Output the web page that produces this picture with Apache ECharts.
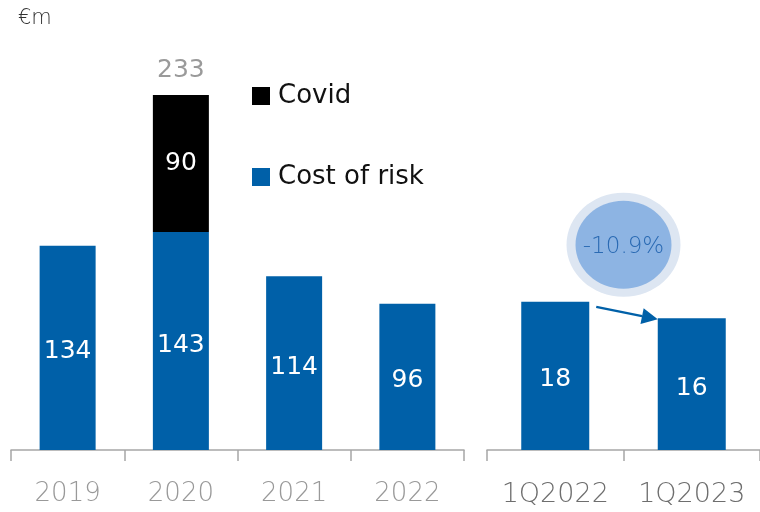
<!DOCTYPE html>
<html>
<head>
<meta charset="utf-8">
<script src="https://cdn.jsdelivr.net/npm/echarts@6/dist/echarts.min.js"></script>
<style>
    html, body { margin: 0; padding: 0; background: #fff; }
    #chart { width: 760px; height: 512px; }
</style>
</head>
<body>
<div id="chart"></div>
<script>
    // yearly panel
    const years = ['2019', '2020', '2021', '2022']
    const costOfRisk = [134, 143, 114, 96]
    const covid = [null, 90, null, null]
    // quarterly panel
    const quarters = ['1Q2022', '1Q2023']
    const costOfRiskQ = [18, 16]
    const changeLabel = '-10.9%'

    const blue = '#0060a8'
    const font = 'DejaVu Sans'

    let chart = echarts.init(document.getElementById('chart'))

    let xAxisBase = {
        type: 'category',
        axisLine: { lineStyle: { color: '#a6a6a6', width: 1.5 } },
        axisTick: { show: true, length: 11, lineStyle: { color: '#a6a6a6', width: 1.5 } },
        axisLabel: { fontFamily: font, fontSize: 26, fontWeight: 200, margin: 31, interval: 0 },
        splitLine: { show: false }
    }

    let valueLabel = {
        show: true, position: 'inside', offset: [0, 4],
        color: '#fff', fontSize: 25, fontFamily: font
    }

    let options = {
        animation: false,
        textStyle: { fontFamily: font },
        title: {
            text: '€m',
            left: 13, top: 3,
            textStyle: { fontFamily: font, fontSize: 21, fontWeight: 200, color: '#333' }
        },
        legend: {
            data: ['Covid', 'Cost of risk'],
            orient: 'vertical',
            left: 252, top: 83,
            padding: 0,
            icon: 'rect',
            itemWidth: 18, itemHeight: 18,
            itemGap: 55,
            textStyle: { fontFamily: font, fontSize: 26, color: '#111', lineHeight: 24, padding: [0, 0, 0, 3] },
            selectedMode: false
        },
        grid: [
            { left: 11, top: 50, width: 453, height: 400 },
            { left: 487, top: 50, width: 276, height: 400 }
        ],
        xAxis: [
            Object.assign({}, xAxisBase, {
                gridIndex: 0, data: years,
                axisLabel: Object.assign({}, xAxisBase.axisLabel, { color: '#999' })
            }),
            Object.assign({}, xAxisBase, {
                gridIndex: 1, data: quarters,
                axisLabel: Object.assign({}, xAxisBase.axisLabel, { color: '#6e6e6e', fontSize: 27 })
            })
        ],
        yAxis: [
            { type: 'value', gridIndex: 0, min: 0, max: 262.5, show: false },
            { type: 'value', gridIndex: 1, min: 0, max: 48.6, show: false }
        ],
        series: [
            {
                name: 'Cost of risk',
                type: 'bar',
                stack: 'y',
                xAxisIndex: 0, yAxisIndex: 0,
                barWidth: 56,
                data: costOfRisk,
                itemStyle: { color: blue },
                label: valueLabel
            },
            {
                name: 'Covid',
                type: 'bar',
                stack: 'y',
                xAxisIndex: 0, yAxisIndex: 0,
                barWidth: 56,
                data: covid,
                itemStyle: { color: '#000' },
                label: Object.assign({}, valueLabel, { offset: [0, 0] })
            },
            {
                // total above the stacked bar
                name: 'total',
                type: 'bar',
                stack: 'y',
                xAxisIndex: 0, yAxisIndex: 0,
                barWidth: 56,
                data: covid.map(v => v == null ? null : 0),
                itemStyle: { color: 'transparent' },
                label: {
                    show: true, position: 'top', distance: 12,
                    color: '#9a9a9a', fontSize: 25, fontFamily: font,
                    formatter: (p) => costOfRisk[p.dataIndex] + covid[p.dataIndex]
                }
            },
            {
                name: 'Cost of risk',
                type: 'bar',
                xAxisIndex: 1, yAxisIndex: 1,
                barWidth: 68,
                data: costOfRiskQ,
                itemStyle: { color: blue },
                label: valueLabel
            }
        ]
    }
    chart.setOption(options)

    // annotation: bubble and arrow between the two quarterly bars
    let p1 = chart.convertToPixel({ xAxisIndex: 1, yAxisIndex: 1 }, [quarters[0], costOfRiskQ[0]])
    let p2 = chart.convertToPixel({ xAxisIndex: 1, yAxisIndex: 1 }, [quarters[1], costOfRiskQ[1]])
    let half = 34
    let ax1 = p1[0] + half + 7, ay1 = p1[1] + 5
    let ax2 = p2[0] - half, ay2 = p2[1] + 1
    let ang = Math.atan2(ay2 - ay1, ax2 - ax1)
    let headLen = 16, headW = 8
    let bx = ax2 - headLen * Math.cos(ang), by = ay2 - headLen * Math.sin(ang)
    let cx = (p1[0] + p2[0]) / 2, cy = p1[1] - 57

    chart.setOption({
        graphic: [
            { type: 'ellipse', shape: { cx: cx, cy: cy, rx: 57, ry: 52 }, style: { fill: '#dde6f2' } },
            { type: 'ellipse', shape: { cx: cx, cy: cy, rx: 48, ry: 44 }, style: { fill: '#8db4e3' } },
            {
                type: 'text', x: cx, y: cy + 2,
                style: {
                    text: changeLabel, fill: '#2a6ab3', fontSize: 23, fontWeight: 200, fontFamily: font,
                    align: 'center', verticalAlign: 'middle'
                }
            },
            {
                type: 'line',
                shape: { x1: ax1, y1: ay1, x2: bx, y2: by },
                style: { stroke: blue, lineWidth: 2.5 }
            },
            {
                type: 'polygon',
                shape: {
                    points: [
                        [ax2, ay2],
                        [bx + headW * Math.sin(ang), by - headW * Math.cos(ang)],
                        [bx - headW * Math.sin(ang), by + headW * Math.cos(ang)]
                    ]
                },
                style: { fill: blue }
            }
        ]
    })
</script>
</body>
</html>
